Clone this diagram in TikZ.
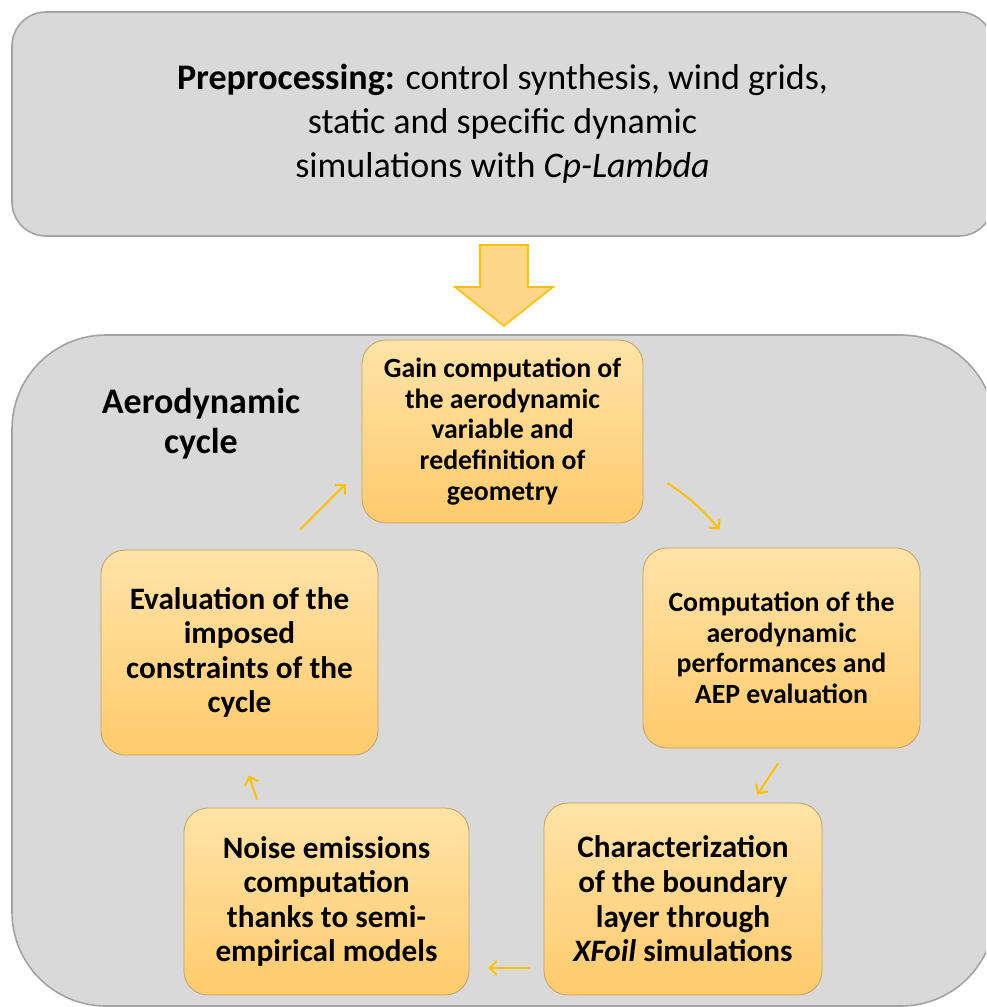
\documentclass[tikz,border=0pt]{standalone}
\usepackage{fontspec}
\setmainfont{Carlito}
\usetikzlibrary{positioning}
\usetikzlibrary{arrows.meta}
\usetikzlibrary{calc}

\definecolor{boxgray}{HTML}{D9D9D9}
\definecolor{grayline}{HTML}{A3A3A3}
\definecolor{goldtop}{HTML}{FFE3A8}
\definecolor{goldbottom}{HTML}{FFCB6C}
\definecolor{goldline}{HTML}{C4A05E}
\definecolor{arrowgold}{HTML}{FFC000}
\definecolor{bigfill}{HTML}{FFD68A}

\begin{document}
\begin{tikzpicture}[x=0.5pt,y=-0.5pt,
                    outer box/.style={draw=grayline,fill=boxgray,line width=0.8pt},
                    cycle node/.style={draw=goldline,top color=goldtop,bottom color=goldbottom,
                            rounded corners=12pt,align=center,inner sep=2pt,
                            font=\bfseries\fontsize{15.6}{17.3}\selectfont},
                    small text/.style={font=\bfseries\fontsize{13.9}{15.3}\selectfont},
                    flow/.style={-{Straight Barb[length=3.5pt,width=7pt]},draw=arrowgold,line width=1pt}]

                \clip (0,0) rectangle (986,1007);
                \fill[white] (0,0) rectangle (986,1007);

                % outer frames
                \node[outer box,rounded corners=17pt,minimum width=490.5pt,minimum height=112pt,
                      align=center,font=\fontsize{18}{22}\selectfont] (prep) at (502.5,124)
                      {\textbf{Preprocessing:} control synthesis, wind grids,\\
                       static and specific dynamic\\
                       simulations with \textit{Cp-Lambda}};
                \node[outer box,rounded corners=47pt,minimum width=491.5pt,minimum height=335.5pt] (cycle) at (503.5,670.5) {};

                % big arrow
                \draw[fill=bigfill,draw=arrowgold,line width=0.8pt,line join=miter]
                    (480,245) -- (528,245) -- (528,287) -- (553,287) -- (504,326)
                    -- (455,287) -- (480,287) -- cycle;

                \node[align=center,font=\bfseries\fontsize{18}{20}\selectfont] (title) at (201,424) {Aerodynamic\\cycle};

                % steps of the cycle
                \node[cycle node,small text,minimum width=140.5pt,minimum height=91.5pt] (gain) at (502.5,431.5)
                    {Gain computation of\\the aerodynamic\\variable and\\redefinition of\\geometry};
                \node[cycle node,small text,minimum width=138.5pt,minimum height=100pt] (perf) at (781.5,648)
                    {Computation of the\\aerodynamic\\performances and\\AEP evaluation};
                \node[cycle node,minimum width=139pt,minimum height=96pt] (xfoil) at (683,899)
                    {Characterization\\of the boundary\\layer through\\\textit{XFoil} simulations};
                \node[cycle node,minimum width=142.5pt,minimum height=93.5pt] (noise) at (326.5,901.5)
                    {Noise emissions\\computation\\thanks to semi-\\empirical models};
                \node[cycle node,minimum width=138.5pt,minimum height=102.5pt] (constr) at (239.5,652.5)
                    {Evaluation of the\\imposed\\constraints of the\\cycle};

                \draw[flow] ([shift={(24,51.5)}]gain.east) to[bend left=8] ([shift={(77,-18)}]perf.north west);
                \draw[flow] ([shift={(-3.5,15)}]perf.south) -- ([shift={(-65,-8)}]xfoil.north east);
                \draw[flow] ([shift={(-14,69)}]xfoil.west) -- ([shift={(19,66.5)}]noise.east);
                \draw[flow] ([shift={(-69.5,-8)}]noise.north) -- ([shift={(9.5,20)}]constr.south);
                \draw[flow] ([shift={(60.5,-20)}]constr.north) -- ([shift={(-16,52.5)}]gain.west);
            \end{tikzpicture}
\end{document}
